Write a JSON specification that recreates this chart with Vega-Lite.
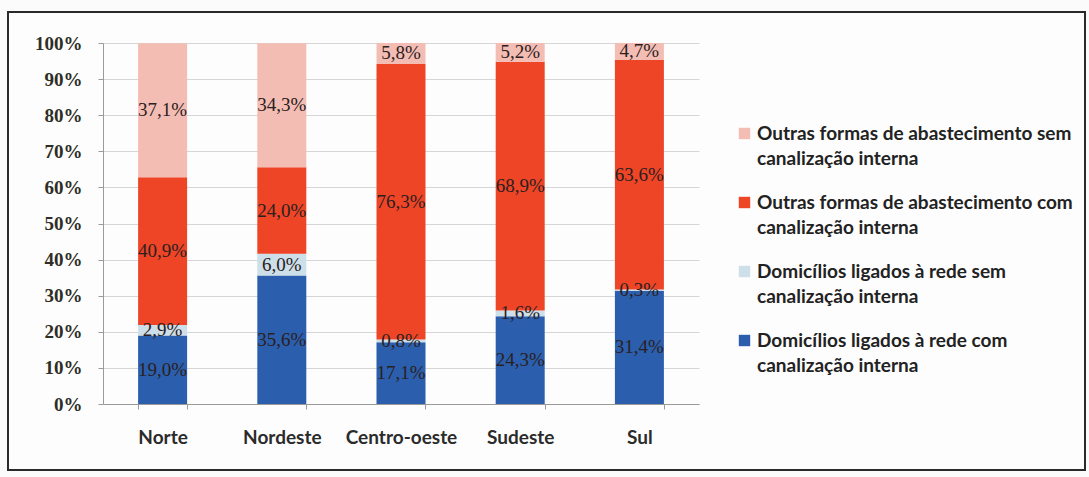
{
  "$schema": "https://vega.github.io/schema/vega-lite/v6.json",
  "width": 1077,
  "height": 458,
  "autosize": {"type": "none"},
  "padding": {"left": 8, "top": 12, "right": 4, "bottom": 7},
  "background": "#fbfbfb",
  "config": {
    "locale": {"number": {"decimal": ",", "thousands": ".", "grouping": [3], "currency": ["R$", ""]}},
    "view": {"stroke": "#2a2a2a", "strokeWidth": 2, "fill": "#fdfdfd"},
    "font": "Lato",
    "style": {"guide-label": {"lineHeight": 25}}
  },
  "data": {
    "values": [
      {"region": "Norte", "serie": "Domicílios ligados à rede com canalização interna", "order": 1, "pct": 19.0},
      {"region": "Norte", "serie": "Domicílios ligados à rede sem canalização interna", "order": 2, "pct": 2.9},
      {"region": "Norte", "serie": "Outras formas de abastecimento com canalização interna", "order": 3, "pct": 40.9},
      {"region": "Norte", "serie": "Outras formas de abastecimento sem canalização interna", "order": 4, "pct": 37.1},
      {"region": "Nordeste", "serie": "Domicílios ligados à rede com canalização interna", "order": 1, "pct": 35.6},
      {"region": "Nordeste", "serie": "Domicílios ligados à rede sem canalização interna", "order": 2, "pct": 6.0},
      {"region": "Nordeste", "serie": "Outras formas de abastecimento com canalização interna", "order": 3, "pct": 24.0},
      {"region": "Nordeste", "serie": "Outras formas de abastecimento sem canalização interna", "order": 4, "pct": 34.3},
      {"region": "Centro-oeste", "serie": "Domicílios ligados à rede com canalização interna", "order": 1, "pct": 17.1},
      {"region": "Centro-oeste", "serie": "Domicílios ligados à rede sem canalização interna", "order": 2, "pct": 0.8},
      {"region": "Centro-oeste", "serie": "Outras formas de abastecimento com canalização interna", "order": 3, "pct": 76.3},
      {"region": "Centro-oeste", "serie": "Outras formas de abastecimento sem canalização interna", "order": 4, "pct": 5.8},
      {"region": "Sudeste", "serie": "Domicílios ligados à rede com canalização interna", "order": 1, "pct": 24.3},
      {"region": "Sudeste", "serie": "Domicílios ligados à rede sem canalização interna", "order": 2, "pct": 1.6},
      {"region": "Sudeste", "serie": "Outras formas de abastecimento com canalização interna", "order": 3, "pct": 68.9},
      {"region": "Sudeste", "serie": "Outras formas de abastecimento sem canalização interna", "order": 4, "pct": 5.2},
      {"region": "Sul", "serie": "Domicílios ligados à rede com canalização interna", "order": 1, "pct": 31.4},
      {"region": "Sul", "serie": "Domicílios ligados à rede sem canalização interna", "order": 2, "pct": 0.3},
      {"region": "Sul", "serie": "Outras formas de abastecimento com canalização interna", "order": 3, "pct": 63.6},
      {"region": "Sul", "serie": "Outras formas de abastecimento sem canalização interna", "order": 4, "pct": 4.7}
    ]
  },
  "transform": [
    {"window": [{"op": "sum", "field": "pct", "as": "cum"}], "groupby": ["region"], "sort": [{"field": "order"}], "frame": [null, 0]},
    {"calculate": "datum.cum - datum.pct", "as": "start"},
    {"calculate": "datum.cum - datum.pct / 2", "as": "mid"},
    {"calculate": "datum.pct / 100", "as": "frac"}
  ],
  "encoding": {
    "x": {
      "field": "region",
      "type": "nominal",
      "sort": ["Norte", "Nordeste", "Centro-oeste", "Sudeste", "Sul"],
      "scale": {"range": [95, 691], "paddingInner": 0.59, "paddingOuter": 0.295},
      "axis": {
        "title": null,
        "offset": -66,
        "labelAngle": 0,
        "labelFont": "Lato",
        "labelFontWeight": "bold",
        "labelFontSize": 19,
        "labelColor": "#2b2b2b",
        "labelPadding": 19,
        "tickBand": "extent",
        "tickSize": 5,
        "tickColor": "#9a9a9a",
        "domainColor": "#9a9a9a",
        "grid": false
      }
    }
  },
  "layer": [
    {
      "mark": {"type": "bar", "size": 49},
      "encoding": {
        "y": {
          "field": "start",
          "type": "quantitative",
          "scale": {"domain": [0, 100], "range": [392, 31], "nice": false, "zero": false},
          "axis": {
            "title": null,
            "offset": -95,
            "values": [0, 10, 20, 30, 40, 50, 60, 70, 80, 90, 100],
            "labelExpr": "datum.value + '%'",
            "labelFont": "Liberation Serif",
            "labelFontWeight": "bold",
            "labelFontSize": 19,
            "labelColor": "#2e2e26",
            "labelPadding": 16,
            "tickSize": 5,
            "tickColor": "#9a9a9a",
            "domainColor": "#9a9a9a",
            "grid": true,
            "gridColor": "#d6d6d6",
            "gridWidth": 1
          }
        },
        "y2": {"field": "cum"},
        "color": {
          "field": "serie",
          "type": "nominal",
          "scale": {
            "domain": [
              "Outras formas de abastecimento sem canalização interna",
              "Outras formas de abastecimento com canalização interna",
              "Domicílios ligados à rede sem canalização interna",
              "Domicílios ligados à rede com canalização interna"
            ],
            "range": ["#f4bdb4", "#ef4527", "#cddfe9", "#2b5fae"]
          },
          "legend": {
            "title": null,
            "orient": "none",
            "legendX": 727,
            "legendY": 112,
            "symbolType": "square",
            "symbolSize": 130,
            "symbolStrokeWidth": 0,
            "labelFont": "Lato",
            "labelFontWeight": "bold",
            "labelFontSize": 19,
            "labelColor": "#222222",
            "labelLimit": 400,
            "labelExpr": "datum.label == 'Outras formas de abastecimento sem canalização interna' ? ['Outras formas de abastecimento sem', 'canalização interna'] : datum.label == 'Outras formas de abastecimento com canalização interna' ? ['Outras formas de abastecimento com', 'canalização interna'] : datum.label == 'Domicílios ligados à rede sem canalização interna' ? ['Domicílios ligados à rede sem', 'canalização interna'] : ['Domicílios ligados à rede com', 'canalização interna']",
            "labelOffset": 3,
            "rowPadding": 24
          }
        }
      }
    },
    {
      "mark": {"type": "text", "font": "Liberation Serif", "fontSize": 19, "color": "#2a2020", "baseline": "middle"},
      "encoding": {
        "y": {"field": "mid", "type": "quantitative"},
        "text": {"field": "frac", "type": "quantitative", "format": ".1%"}
      }
    }
  ]
}
